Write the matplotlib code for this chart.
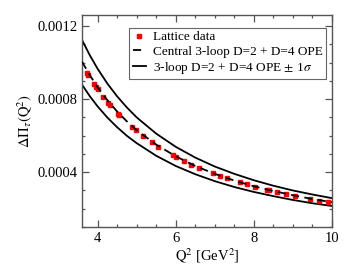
import matplotlib
matplotlib.use("Agg")
import matplotlib.pyplot as plt
from matplotlib.ticker import MultipleLocator

# Q^2 grid for curves [GeV^2]
q2_curve = [3.6, 3.8, 4.0, 4.25, 4.5, 4.75, 5.0, 5.5, 6.0, 6.5, 7.0, 7.5, 8.0, 8.5, 9.0, 9.5, 10.0]
upper = [0.001124, 0.001040, 0.000966, 0.000885, 0.000815, 0.000754, 0.000700, 0.000611, 0.000539,
         0.000480, 0.000431, 0.000391, 0.000356, 0.000326, 0.000300, 0.000278, 0.000258]
central = [0.001005, 0.000931, 0.000865, 0.000794, 0.000732, 0.000678, 0.000630, 0.000551, 0.000487,
           0.000434, 0.000391, 0.000354, 0.000323, 0.000297, 0.000274, 0.000253, 0.000236]
lower = [0.000879, 0.000816, 0.000760, 0.000699, 0.000646, 0.000599, 0.000559, 0.000490, 0.000434,
         0.000389, 0.000351, 0.000319, 0.000292, 0.000269, 0.000248, 0.000230, 0.000215]

# Lattice data
q2_lat = [3.72, 3.76, 3.90, 3.95, 4.00, 4.14, 4.27, 4.31, 4.52, 4.55, 4.88, 4.97, 5.16, 5.38, 5.55,
          5.92, 6.00, 6.21, 6.40, 6.59, 6.95, 7.14, 7.31, 7.64, 7.82, 8.03, 8.34, 8.40, 8.60, 8.82,
          9.05, 9.44, 9.68, 9.90]
dpi_lat = [0.000945, 0.000930, 0.000880, 0.000866, 0.000853, 0.000812, 0.000778, 0.000768, 0.000718,
           0.000711, 0.000645, 0.000630, 0.000598, 0.000563, 0.000540, 0.000494, 0.000485, 0.000461,
           0.000442, 0.000424, 0.000393, 0.000378, 0.000366, 0.000344, 0.000333, 0.000321, 0.000303,
           0.000300, 0.000290, 0.000280, 0.000270, 0.000254, 0.000245, 0.000237]

labels = ["Lattice data", "Central 3-loop D=2 + D=4 OPE", "3-loop D=2 + D=4 OPE $\\pm$ 1$\\sigma$"]

plt.rcParams['font.family'] = ['Liberation Serif', 'DejaVu Serif']
plt.rcParams['mathtext.fontset'] = 'stix'

fig = plt.figure(figsize=(3.55, 2.74), dpi=100)
ax = fig.add_axes([0.231, 0.1715, 0.704, 0.7735])

ax.plot(q2_curve, upper, color='black', lw=1.3, zorder=2)
ax.plot(q2_curve, lower, color='black', lw=1.3, zorder=2)
ax.plot(q2_lat, dpi_lat, ls='none', marker='s', ms=2.6, color='red', mec='red', zorder=3, label=labels[0])
ax.plot(q2_curve, central, color='black', lw=1.3, ls=(0, (4.5, 3)), zorder=4, label=labels[1])
ax.plot([], [], color='black', lw=1.3, label=labels[2])

ax.set_xlim(3.6, 10)
ax.set_ylim(0.0001, 0.00126)
ax.set_xticks([4, 6, 8, 10])
ax.set_yticks([0.0004, 0.0008, 0.0012])
ax.set_yticklabels(['0.0004', '0.0008', '0.0012'])
ax.xaxis.set_minor_locator(MultipleLocator(0.5))
ax.yaxis.set_minor_locator(MultipleLocator(0.0001))
ax.tick_params(which='both', direction='in', top=True, right=True, labelsize=10.5, color='#555555')
ax.tick_params(which='major', length=5, width=0.9)
ax.tick_params(which='minor', length=2.5, width=0.9)
for s in ax.spines.values():
    s.set_color('#555555')
    s.set_linewidth(1.0)

ax.set_xlabel(r'$\mathrm{Q}^2$ [GeV$^2$]', fontsize=10.5, labelpad=1)
ax.set_ylabel(r'$\Delta\Pi_{\tau}(\mathrm{Q}^2)$', fontsize=10.5, labelpad=2)

leg = ax.legend(loc='upper right', bbox_to_anchor=(0.975, 0.94), fontsize=9.5, handlelength=1.0,
                handletextpad=0.5, borderpad=0.25, labelspacing=0.15, fancybox=False,
                framealpha=1, edgecolor='#666666', borderaxespad=0, numpoints=1, markerscale=1.0)
leg.get_frame().set_linewidth(0.8)

fig.savefig('out.png', dpi=100)
